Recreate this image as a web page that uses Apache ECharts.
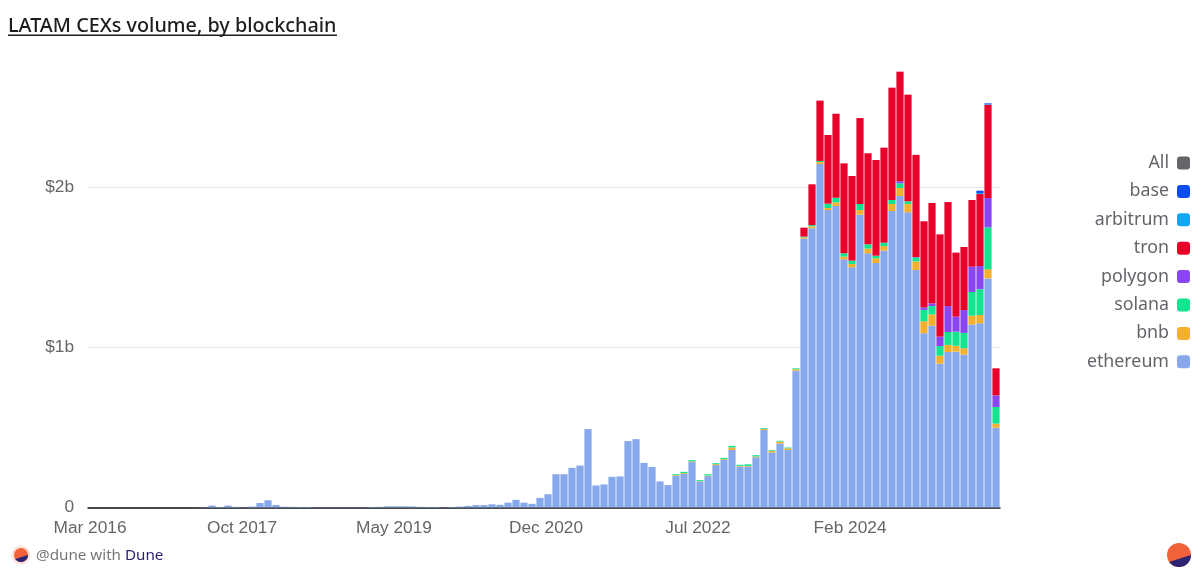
<!DOCTYPE html>
<html>
<head>
<meta charset="utf-8">
<title>LATAM CEXs volume, by blockchain</title>
<style>
    html, body { margin: 0; padding: 0; background: #fff; }
    #main { width: 1200px; height: 577px; }
</style>
<script src="https://cdn.jsdelivr.net/npm/echarts@6/dist/echarts.min.js"></script>
</head>
<body>
<div id="main"></div>
<script type="text/javascript">
    // monthly volume in $b, Mar 2016 .. Aug 2025 (114 months)
    var monthNames = ['Jan', 'Feb', 'Mar', 'Apr', 'May', 'Jun', 'Jul', 'Aug', 'Sep', 'Oct', 'Nov', 'Dec'];
    var months = [];
    for (var m = 0; m < 114; m++) {
        months.push(monthNames[(m + 2) % 12] + ' ' + (2016 + Math.floor((m + 2) / 12)));
    }

    var ethereum = [
        0, 0, 0, 0, 0, 0, 0, 0, 0, 0, 0, 0, 0, 0.001, 0.002, 0.012, 0.003, 0.012, 0.004, 0.002,
        0.006, 0.028, 0.045, 0.016, 0.005, 0.004, 0.003, 0.003, 0.002, 0.002, 0.002, 0.002, 0.002, 0.002, 0.002, 0.003, 0.004, 0.008, 0.008, 0.008,
        0.007, 0.004, 0.003, 0.003, 0.002, 0.003, 0.006, 0.01, 0.015, 0.015, 0.02, 0.017, 0.03, 0.048, 0.03, 0.023, 0.06, 0.083, 0.208, 0.208,
        0.248, 0.262, 0.49, 0.138, 0.144, 0.192, 0.194, 0.415, 0.427, 0.279, 0.254, 0.163, 0.14, 0.198, 0.21, 0.284, 0.163, 0.196, 0.265, 0.298,
        0.36, 0.256, 0.256, 0.314, 0.485, 0.344, 0.4, 0.36, 0.855, 1.68, 1.745, 2.147, 1.859, 1.884, 1.551, 1.501, 1.83, 1.589, 1.528, 1.605,
        1.853, 1.947, 1.845, 1.484, 1.089, 1.136, 0.899, 0.972, 0.974, 0.955, 1.143, 1.151, 1.432, 0.499
    ];
    var bnb = [
        0, 0, 0, 0, 0, 0, 0, 0, 0, 0, 0, 0, 0, 0, 0, 0, 0, 0, 0, 0,
        0, 0, 0, 0, 0, 0, 0, 0, 0, 0, 0, 0, 0, 0, 0, 0, 0, 0, 0, 0,
        0, 0, 0, 0, 0, 0, 0, 0, 0, 0, 0, 0, 0, 0, 0, 0, 0, 0, 0, 0,
        0, 0, 0, 0, 0, 0, 0, 0, 0, 0, 0, 0, 0, 0.004, 0.005, 0.004, 0.002, 0.004, 0.006, 0.004,
        0.015, 0.004, 0.004, 0.005, 0.006, 0.009, 0.012, 0.01, 0.009, 0.008, 0.012, 0.012, 0.013, 0.023, 0.017, 0.021, 0.029, 0.029, 0.029, 0.029,
        0.044, 0.05, 0.052, 0.054, 0.075, 0.071, 0.05, 0.044, 0.037, 0.04, 0.056, 0.052, 0.057, 0.025
    ];
    var solana = [
        0, 0, 0, 0, 0, 0, 0, 0, 0, 0, 0, 0, 0, 0, 0, 0, 0, 0, 0, 0,
        0, 0, 0, 0, 0, 0, 0, 0, 0, 0, 0, 0, 0, 0, 0, 0, 0, 0, 0, 0,
        0, 0, 0, 0, 0, 0, 0, 0, 0, 0, 0, 0, 0, 0, 0, 0, 0, 0, 0, 0,
        0, 0, 0, 0, 0, 0, 0, 0, 0, 0, 0, 0, 0, 0.006, 0.008, 0.008, 0.006, 0.008, 0.006, 0.008,
        0.01, 0.007, 0.01, 0.008, 0.005, 0.005, 0.005, 0.005, 0.006, 0.005, 0.008, 0.007, 0.027, 0.029, 0.021, 0.021, 0.038, 0.027, 0.017, 0.021,
        0.025, 0.029, 0.017, 0.025, 0.071, 0.052, 0.06, 0.081, 0.088, 0.096, 0.148, 0.161, 0.262, 0.104
    ];
    var polygon = [
        0, 0, 0, 0, 0, 0, 0, 0, 0, 0, 0, 0, 0, 0, 0, 0, 0, 0, 0, 0,
        0, 0, 0, 0, 0, 0, 0, 0, 0, 0, 0, 0, 0, 0, 0, 0, 0, 0, 0, 0,
        0, 0, 0, 0, 0, 0, 0, 0, 0, 0, 0, 0, 0, 0, 0, 0, 0, 0, 0, 0,
        0, 0, 0, 0, 0, 0, 0, 0, 0, 0, 0, 0, 0, 0, 0, 0, 0, 0, 0, 0,
        0, 0, 0, 0, 0, 0, 0, 0, 0, 0, 0, 0, 0, 0, 0, 0, 0, 0, 0, 0,
        0, 0.013, 0, 0.002, 0.016, 0.017, 0.059, 0.162, 0.094, 0.143, 0.158, 0.145, 0.183, 0.073
    ];
    var tron = [
        0, 0, 0, 0, 0, 0, 0, 0, 0, 0, 0, 0, 0, 0, 0, 0, 0, 0, 0, 0,
        0, 0, 0, 0, 0, 0, 0, 0, 0, 0, 0, 0, 0, 0, 0, 0, 0, 0, 0, 0,
        0, 0, 0, 0, 0, 0, 0, 0, 0, 0, 0, 0, 0, 0, 0, 0, 0, 0, 0, 0,
        0, 0, 0, 0, 0, 0, 0, 0, 0, 0, 0, 0, 0, 0, 0, 0, 0, 0, 0, 0,
        0, 0, 0, 0, 0, 0, 0, 0, 0, 0.056, 0.255, 0.377, 0.429, 0.525, 0.562, 0.529, 0.537, 0.569, 0.598, 0.594,
        0.702, 0.685, 0.666, 0.639, 0.538, 0.627, 0.639, 0.65, 0.4, 0.394, 0.417, 0.45, 0.583, 0.169
    ];
    var arbitrum = [
        0, 0, 0, 0, 0, 0, 0, 0, 0, 0, 0, 0, 0, 0, 0, 0, 0, 0, 0, 0,
        0, 0, 0, 0, 0, 0, 0, 0, 0, 0, 0, 0, 0, 0, 0, 0, 0, 0, 0, 0,
        0, 0, 0, 0, 0, 0, 0, 0, 0, 0, 0, 0, 0, 0, 0, 0, 0, 0, 0, 0,
        0, 0, 0, 0, 0, 0, 0, 0, 0, 0, 0, 0, 0, 0, 0, 0, 0, 0, 0, 0,
        0, 0, 0, 0, 0, 0, 0, 0, 0, 0, 0, 0, 0, 0, 0, 0, 0, 0, 0, 0,
        0, 0, 0, 0, 0, 0, 0, 0, 0, 0, 0, 0.006, 0.003, 0
    ];
    var base = [
        0, 0, 0, 0, 0, 0, 0, 0, 0, 0, 0, 0, 0, 0, 0, 0, 0, 0, 0, 0,
        0, 0, 0, 0, 0, 0, 0, 0, 0, 0, 0, 0, 0, 0, 0, 0, 0, 0, 0, 0,
        0, 0, 0, 0, 0, 0, 0, 0, 0, 0, 0, 0, 0, 0, 0, 0, 0, 0, 0, 0,
        0, 0, 0, 0, 0, 0, 0, 0, 0, 0, 0, 0, 0, 0, 0, 0, 0, 0, 0, 0,
        0, 0, 0, 0, 0, 0, 0, 0, 0, 0, 0, 0, 0, 0, 0, 0, 0, 0, 0, 0,
        0, 0, 0, 0, 0, 0, 0, 0, 0, 0, 0, 0.015, 0.006, 0
    ];
    var legendNames = ['All', 'base', 'arbitrum', 'tron', 'polygon', 'solana', 'bnb', 'ethereum'];

    function barSeries(name, color, data) {
        return {
            name: name,
            type: 'bar',
            stack: 'total',
            barWidth: '90%',
            itemStyle: { color: color },
            data: data
        };
    }

    // dune logo: orange disc with a navy slice at the bottom
    function logo(cx, cy, r) {
        var pts = [];
        for (var a = 0; a <= 145; a += 5) {
            pts.push([cx + r * Math.cos(a * Math.PI / 180), cy + r * Math.sin(a * Math.PI / 180)]);
        }
        return [
            { type: 'circle', shape: { cx: cx, cy: cy, r: r }, style: { fill: '#f1623a' } },
            { type: 'polygon', shape: { points: pts }, style: { fill: '#2c2372' } }
        ];
    }

    var myChart = echarts.init(document.getElementById('main'));
    var option = {
        animation: false,
        backgroundColor: '#fff',
        title: {
            text: 'LATAM CEXs volume, by blockchain',
            left: 8,
            top: 16.5,
            padding: 0,
            textStyle: { fontFamily: 'Noto Sans', fontSize: 19.8, fontWeight: 500, color: '#1d1d20' }
        },
        legend: {
            data: legendNames,
            orient: 'vertical',
            align: 'right',
            right: 10,
            top: 154,
            padding: 0,
            itemWidth: 13,
            itemHeight: 13,
            itemGap: 10.4,
            icon: 'roundRect',
            selectedMode: false,
            textStyle: { fontFamily: 'Noto Sans', fontSize: 17.8, color: '#63656a', padding: [0, 3, 0, 0] }
        },
        grid: { left: 88, top: 27.5, width: 912, height: 480 },
        xAxis: {
            type: 'category',
            data: months,
            axisLine: { lineStyle: { color: '#111', width: 1.5 } },
            axisTick: { show: false },
            axisLabel: {
                interval: 18,
                margin: 12,
                padding: [0, 4, 0, 0],
                fontFamily: 'Liberation Sans',
                fontSize: 17.3,
                color: '#666'
            }
        },
        yAxis: {
            type: 'value',
            min: 0,
            max: 3,
            interval: 1,
            axisLine: { show: false },
            axisTick: { show: false },
            splitLine: { showMaxLine: false, lineStyle: { color: '#e6e6e6' } },
            axisLabel: {
                showMaxLabel: false,
                margin: 14,
                fontFamily: 'Liberation Sans',
                fontSize: 17.3,
                color: '#666',
                formatter: function (v) { return v === 0 ? '0' : '$' + v + 'b'; }
            }
        },
        series: [
            barSeries('ethereum', '#87a8ea', ethereum),
            barSeries('bnb', '#f3b02f', bnb),
            barSeries('solana', '#14e38f', solana),
            barSeries('polygon', '#8a46f0', polygon),
            barSeries('tron', '#e8002b', tron),
            barSeries('arbitrum', '#14a5f5', arbitrum),
            barSeries('base', '#0a4cf0', base),
            barSeries('All', '#63656a', [])
        ],
        graphic: [
            { type: 'rect', shape: { x: 8, y: 34.5, width: 329, height: 1.5 }, style: { fill: '#1d1d20' } },
            { type: 'circle', shape: { cx: 21, cy: 555, r: 9.5 }, style: { fill: '#fde3dc' } }
        ].concat(logo(21, 555, 7), logo(1179, 555, 12), [
            {
                type: 'text',
                left: 36,
                top: 548,
                style: {
                    text: '{a|@dune with }{b|Dune}',
                    rich: {
                        a: { fontFamily: 'Noto Sans', fontSize: 15.2, fill: '#77787c' },
                        b: { fontFamily: 'Noto Sans', fontSize: 15.2, fill: '#2c2372' }
                    }
                }
            }
        ])
    };
    myChart.setOption(option);
</script>
</body>
</html>
